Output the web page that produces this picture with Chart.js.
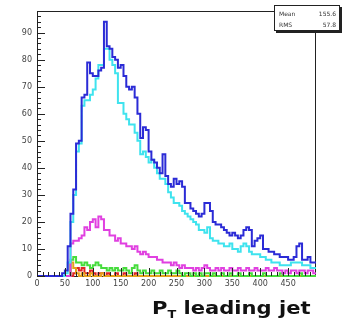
<!DOCTYPE html>
<html>
<head>
<meta charset="utf-8">
<script src="https://cdn.jsdelivr.net/npm/chart.js@4/dist/chart.umd.min.js"></script>
<style>
  html, body { margin: 0; padding: 0; background: #fff; }
  #wrap { position: relative; width: 344px; height: 324px; overflow: hidden; }
  #plot { position: absolute; left: 0; top: 0; }
  #stats {
    position: absolute; left: 274px; top: 5px; width: 66px; height: 26px;
    border: 1px solid #222; box-shadow: 2px 2px 0 #222; background: #fff;
    font-family: 'DejaVu Sans', sans-serif; font-size: 6px; color: #333;
    box-sizing: border-box; padding: 2px 3px 0 4px;
  }
  #stats .row { display: flex; justify-content: space-between; height: 11px; line-height: 11px; }
  #title {
    position: absolute; left: 152px; top: 297px; white-space: nowrap;
    font-family: 'DejaVu Sans', sans-serif; font-weight: bold; font-size: 18px; color: #111;
    transform: scaleX(1.17); transform-origin: left top;
  }
  #title sub { font-size: 11px; vertical-align: -4px; }
</style>
</head>
<body>
<div id="wrap">
  <canvas id="plot" width="344" height="324"></canvas>
  <div id="stats">
    <div class="row"><span>Mean</span><span>155.6</span></div>
    <div class="row"><span>RMS</span><span>57.8</span></div>
  </div>
  <div id="title">P<sub>T</sub> leading jet</div>
</div>
<script>
// Histogram binning: 100 bins of 5 GeV from 0 to 500
const xMin = 0;
const xMax = 500;
const nBins = 100;
const yMax = 98;

// Axis tick labels
const xTickValues = [0, 50, 100, 150, 200, 250, 300, 350, 400, 450];
const yTickValues = [0, 10, 20, 30, 40, 50, 60, 70, 80, 90];

// Bin contents per sample
const countsBlue = [
  0, 0, 0, 0, 0, 0, 0, 0, 0, 1,
  2, 11, 23, 32, 49, 50, 66, 67, 79, 75,
  74, 74, 76, 77, 94, 85, 84, 81, 80, 77,
  78, 74, 70, 69, 70, 66, 60, 51, 55, 54,
  46, 43, 42, 40, 38, 45, 37, 34, 33, 36,
  34, 35, 33, 27, 27, 25, 24, 23, 22, 23,
  27, 27, 24, 20, 19, 19, 18, 17, 16, 15,
  16, 15, 14, 15, 17, 18, 17, 11, 13, 14,
  15, 10, 10, 9, 9, 8, 8, 7, 7, 7,
  6, 6, 7, 11, 12, 6, 6, 7, 5, 5
];
const countsCyan = [
  0, 0, 0, 0, 0, 0, 0, 0, 0, 0,
  1, 5, 20, 30, 46, 49, 63, 65, 65, 67,
  69, 73, 78, 78, 84, 84, 80, 78, 75, 64,
  64, 60, 58, 56, 56, 53, 50, 45, 46, 44,
  42, 43, 40, 38, 36, 36, 34, 31, 29, 27,
  27, 26, 24, 23, 22, 21, 20, 19, 17, 17,
  16, 18, 14, 13, 13, 12, 12, 11, 11, 12,
  10, 10, 9, 11, 12, 11, 9, 8, 8, 8,
  7, 7, 6, 6, 5, 5, 5, 4, 4, 4,
  4, 5, 5, 5, 5, 4, 4, 4, 3, 3
];
const countsMagenta = [
  0, 0, 0, 0, 0, 0, 0, 0, 0, 0,
  0, 0, 12, 13, 13, 14, 15, 18, 17, 20,
  21, 18, 22, 21, 17, 17, 15, 15, 13, 14,
  12, 12, 11, 11, 10, 11, 9, 8, 9, 8,
  7, 7, 7, 6, 6, 5, 5, 5, 4, 5,
  4, 3, 4, 3, 3, 3, 2, 3, 2, 3,
  4, 3, 2, 2, 3, 2, 3, 2, 2, 3,
  2, 2, 3, 2, 2, 3, 2, 2, 3, 2,
  2, 2, 3, 2, 2, 3, 2, 2, 1, 2,
  1, 2, 2, 1, 2, 2, 1, 2, 2, 1
];
const countsGreen = [
  0, 0, 0, 0, 0, 0, 0, 0, 0, 0,
  0, 0, 6, 7, 5, 5, 4, 5, 4, 3,
  4, 5, 4, 3, 3, 2, 3, 2, 3, 2,
  2, 3, 2, 1, 3, 4, 2, 1, 2, 1,
  1, 2, 1, 1, 2, 1, 1, 2, 1, 1,
  2, 1, 0, 1, 1, 0, 1, 0, 1, 0,
  1, 1, 0, 1, 0, 0, 1, 0, 0, 1,
  0, 0, 1, 0, 0, 0, 1, 0, 0, 0,
  0, 1, 0, 0, 0, 0, 0, 1, 0, 0,
  0, 0, 0, 0, 1, 0, 0, 0, 0, 0
];
const countsRed = [
  0, 0, 0, 0, 0, 0, 0, 0, 0, 0,
  0, 0, 0, 1, 3, 2, 3, 1, 1, 2,
  1, 0, 1, 1, 0, 1, 0, 0, 1, 0,
  0, 1, 0, 0, 0, 1, 0, 0, 0, 0,
  0, 0, 0, 0, 0, 0, 0, 0, 0, 0,
  0, 0, 0, 0, 0, 0, 0, 0, 0, 0,
  0, 0, 0, 0, 0, 0, 0, 0, 0, 0,
  0, 0, 0, 0, 0, 0, 0, 0, 0, 0,
  0, 0, 0, 0, 0, 0, 0, 0, 0, 0,
  0, 0, 0, 0, 0, 0, 0, 0, 0, 0
];
const countsOrange = [
  0, 0, 0, 0, 0, 0, 0, 0, 0, 0,
  0, 0, 5, 3, 1, 0, 1, 0, 0, 1,
  0, 0, 0, 1, 0, 0, 0, 0, 0, 0,
  0, 0, 0, 0, 0, 0, 0, 0, 0, 0,
  0, 0, 0, 0, 0, 0, 0, 0, 0, 0,
  0, 0, 0, 0, 0, 0, 0, 0, 0, 0,
  0, 0, 0, 0, 0, 0, 0, 0, 0, 0,
  0, 0, 0, 0, 0, 0, 0, 0, 0, 0,
  0, 0, 0, 0, 0, 0, 0, 0, 0, 0,
  0, 0, 0, 0, 0, 0, 0, 0, 0, 0
];

const binWidth = (xMax - xMin) / nBins;

// Histogram outline: one point per bin at its low edge, plus the closing edge
function histPoints(counts) {
  const pts = counts.map((c, i) => ({ x: xMin + i * binWidth, y: c }));
  pts.push({ x: xMax, y: counts[counts.length - 1] });
  return pts;
}

function histDataset(counts, color, width) {
  return {
    data: histPoints(counts),
    borderColor: color,
    borderWidth: width,
    stepped: 'before',
    pointRadius: 0,
    fill: false,
    clip: 4,
    tension: 0
  };
}

// Frame around the pad and ROOT-style inward tick marks
const frameAndTicks = {
  id: 'frameAndTicks',
  beforeDatasetsDraw(chart) {
    const { ctx, chartArea: a } = chart;
    ctx.save();
    ctx.strokeStyle = '#222';
    ctx.lineWidth = 1;
    ctx.strokeRect(a.left + 0.5, a.top + 0.5, a.right - a.left - 1, a.bottom - a.top);
    ctx.restore();
  },
  afterDatasetsDraw(chart) {
    const { ctx, chartArea: a, scales: { x, y } } = chart;
    ctx.save();
    ctx.strokeStyle = '#222';
    ctx.lineWidth = 1;
    ctx.beginPath();
    for (let v = 0; v <= yMax; v += 2) {
      const py = Math.round(y.getPixelForValue(v)) + 0.5;
      const len = v % 10 === 0 ? 8 : 4;
      ctx.moveTo(a.left, py);
      ctx.lineTo(a.left + len, py);
    }
    for (let v = xMin; v < xMax; v += 10) {
      const px = Math.round(x.getPixelForValue(v)) + 0.5;
      const len = v % 50 === 0 ? 8 : 4;
      ctx.moveTo(px, a.bottom);
      ctx.lineTo(px, a.bottom - len);
    }
    ctx.stroke();
    ctx.restore();
  }
};

const tickFont = { family: "'DejaVu Sans', sans-serif", size: 8 };

new Chart(document.getElementById('plot'), {
  type: 'line',
  data: {
    datasets: [
      histDataset(countsBlue, '#2b2bd6', 2),
      histDataset(countsCyan, '#3fe3ee', 2),
      histDataset(countsMagenta, '#e040e0', 2),
      histDataset(countsGreen, '#46dc3c', 2),
      histDataset(countsOrange, '#e6a21c', 2),
      histDataset(countsRed, '#e02424', 2)
    ]
  },
  options: {
    responsive: false,
    animation: false,
    events: [],
    layout: { padding: { top: 11, right: 28, bottom: 0, left: 0 } },
    plugins: { legend: { display: false }, tooltip: { enabled: false }, title: { display: false } },
    scales: {
      x: {
        type: 'linear',
        min: xMin,
        max: xMax,
        grid: { display: false, drawTicks: false },
        border: { display: false },
        afterBuildTicks: (s) => { s.ticks = xTickValues.map(v => ({ value: v })); },
        afterFit: (s) => { s.height = 48; },
        ticks: { autoSkip: false, maxRotation: 0, padding: 3, color: '#444', font: tickFont }
      },
      y: {
        type: 'linear',
        min: 0,
        max: yMax,
        grid: { display: false, drawTicks: false },
        border: { display: false },
        afterBuildTicks: (s) => { s.ticks = yTickValues.map(v => ({ value: v })); },
        afterFit: (s) => { s.width = 37; },
        ticks: { padding: 5, color: '#444', font: tickFont }
      }
    }
  },
  plugins: [frameAndTicks]
});
</script>
</body>
</html>
